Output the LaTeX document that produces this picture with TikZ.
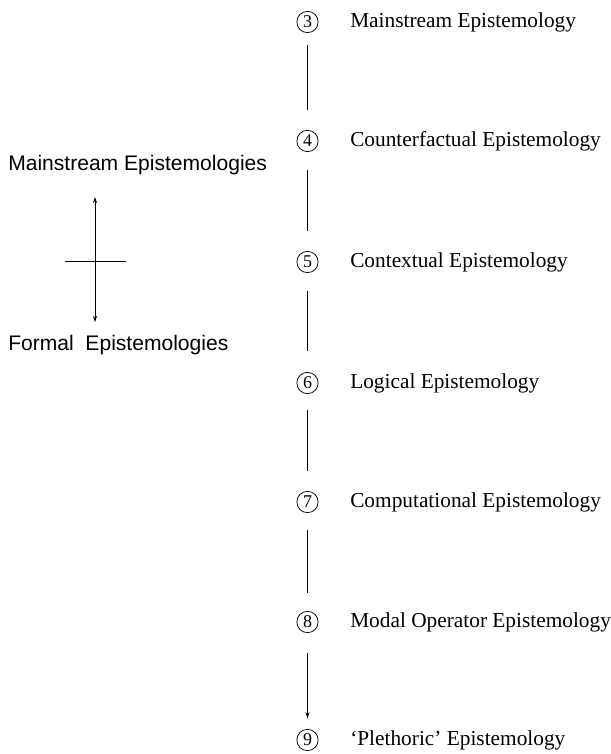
\documentclass[tikz,border=0pt]{standalone}
\usepackage{fontspec}
\setmainfont{Liberation Serif}
\setsansfont{Liberation Sans}
\usetikzlibrary{arrows.meta}
\begin{document}
\begin{tikzpicture}[x=0.75pt,y=-0.75pt,
  num/.style={circle,draw,line width=0.55pt,minimum size=16pt,inner sep=0pt,font=\fontsize{13.5}{14}\selectfont},
  lab/.style={anchor=west,inner sep=0pt,font=\fontsize{16}{18}\selectfont},
  side/.style={anchor=west,inner sep=0pt,font=\sffamily\fontsize{15.8}{18}\selectfont},
  conn/.style={line width=0.75pt},
  tip/.style={-{Stealth[length=5pt,width=3pt]}}]
\useasboundingbox (0,0) rectangle (611,754);
% numbered rows
\node[num] (n3) at (307.5,22) {3};
\node[num] (n4) at (307.5,141) {4};
\node[num] (n5) at (307.5,262) {5};
\node[num] (n6) at (307.5,383) {6};
\node[num] (n7) at (307.5,502) {7};
\node[num] (n8) at (307.5,622) {8};
\node[num] (n9) at (307.5,740) {9};
\node[lab] (t3) at (350,22) {Mainstream Epistemology};
\node[lab] (t4) at (350,141) {Counterfactual Epistemology};
\node[lab] (t5) at (350,262) {Contextual Epistemology};
\node[lab] (t6) at (350,383) {Logical Epistemology};
\node[lab] (t7) at (350,502) {Computational Epistemology};
\node[lab] (t8) at (350,622) {Modal Operator Epistemology};
\node[lab] (t9) at (350,740) {`Plethoric' Epistemology};
% connectors
\draw[conn] ([yshift=-17pt]n3.center) -- ([yshift=23pt]n4.center);
\draw[conn] ([yshift=-22pt]n4.center) -- ([yshift=23pt]n5.center);
\draw[conn] ([yshift=-22pt]n5.center) -- ([yshift=24pt]n6.center);
\draw[conn] ([yshift=-20pt]n6.center) -- ([yshift=23pt]n7.center);
\draw[conn] ([yshift=-21pt]n7.center) -- ([yshift=22pt]n8.center);
\draw[conn,tip] ([yshift=-23pt]n8.center) -- ([yshift=16pt]n9.center);
% left cross
\node[side] (ms) at (8,165) {Mainstream Epistemologies};
\node[side] (fe) at (8,345) {Formal\ \ Epistemologies};
\coordinate (up) at (95,197);
\coordinate (dn) at (95,322);
\coordinate (hl) at (65,261);
\coordinate (hr) at (126,261);
\draw[line width=0.6pt,{Stealth[length=4.5pt,width=3pt]}-{Stealth[length=4.5pt,width=3pt]}] (up) -- (dn);
\draw[line width=0.75pt] (hl) -- (hr);
\end{tikzpicture}
\end{document}
